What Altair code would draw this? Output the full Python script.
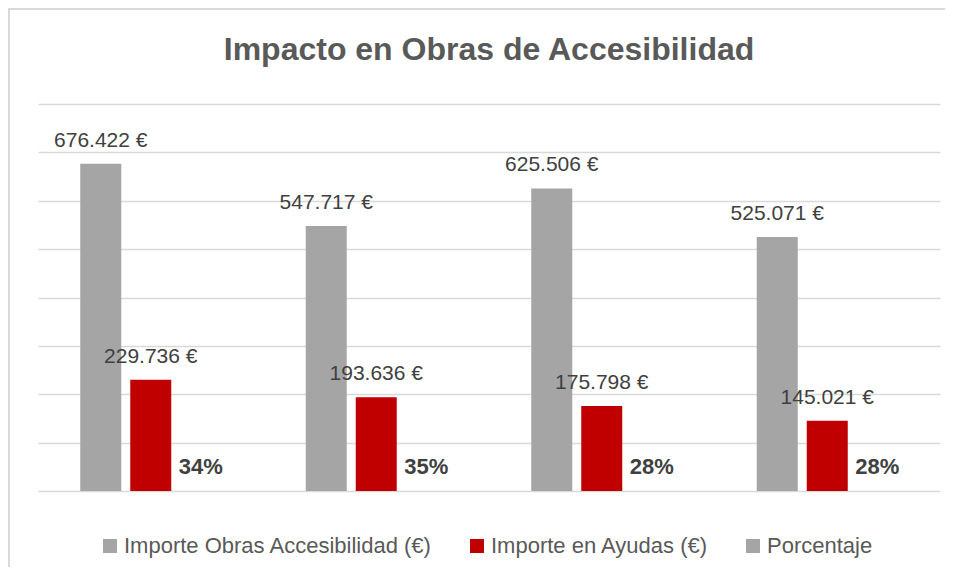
import altair as alt
import pandas as pd

groups = ["1", "2", "3", "4"]
series = ["Importe Obras Accesibilidad (€)", "Importe en Ayudas (€)", "Porcentaje"]
obras = [676422, 547717, 625506, 525071]
ayudas = [229736, 193636, 175798, 145021]
porcentaje = [34, 35, 28, 28]
colors = ["#A5A5A5", "#C00000", "#A5A5A5"]
grid_values = [0, 100000, 200000, 300000, 400000, 500000, 600000, 700000, 800000]


def eur(v):
    return f"{v:,}".replace(",", ".") + " €"


rows = []
for i, g in enumerate(groups):
    rows.append({"grupo": g, "serie": series[0], "valor": obras[i], "etiqueta": eur(obras[i]), "tipo": "eur"})
    rows.append({"grupo": g, "serie": series[1], "valor": ayudas[i], "etiqueta": eur(ayudas[i]), "tipo": "eur"})
    rows.append({"grupo": g, "serie": series[2], "valor": porcentaje[i] / 100, "etiqueta": f"{porcentaje[i]}%", "tipo": "pct"})
df = pd.DataFrame(rows)

FONT = "Liberation Sans"

x_enc = alt.X("grupo:N", sort=groups, axis=None, scale=alt.Scale(paddingInner=0, paddingOuter=0))
xo_enc = alt.XOffset("serie:N", sort=series,
                     scale=alt.Scale(domain=series, paddingInner=0.18, paddingOuter=0.845))
y_enc = alt.Y("valor:Q", scale=alt.Scale(domain=[0, 800000], nice=False),
              axis=alt.Axis(values=grid_values, labels=False, ticks=False, domain=False, title=None,
                            grid=True, gridColor="#D9D9D9", gridWidth=1.5))

base = alt.Chart(df)

bars = base.mark_bar().encode(
    x=x_enc, xOffset=xo_enc, y=y_enc,
    color=alt.Color("serie:N", sort=series,
                    scale=alt.Scale(domain=series, range=colors),
                    legend=alt.Legend(orient="none", legendX=61, legendY=431, direction="horizontal",
                                      title=None, symbolType="square", symbolSize=196,
                                      symbolStrokeWidth=0, labelFont=FONT, labelFontSize=22,
                                      labelColor="#595959", columnPadding=33, labelOffset=3,
                                      labelLimit=400)),
)

labels_eur = base.transform_filter(alt.datum.tipo == "eur").mark_text(
    font=FONT, fontSize=21, color="#404040", baseline="alphabetic", dy=-17
).encode(x=x_enc, xOffset=xo_enc, y=y_enc, text="etiqueta:N")

labels_pct = base.transform_filter(alt.datum.tipo == "pct").mark_text(
    font=FONT, fontSize=22, fontWeight="bold", color="#404040", baseline="alphabetic", dy=-17
).encode(x=x_enc, xOffset=xo_enc, y=y_enc, text="etiqueta:N")

border = alt.Chart(pd.DataFrame({"a": [1]})).mark_rect(
    fill=None, stroke="#D9D9D9", strokeWidth=2
).encode(x=alt.value(-29), x2=alt.value(930), y=alt.value(-95), y2=alt.value(480))

chart = alt.layer(border, bars, labels_eur, labels_pct).properties(
    width=902, height=387,
    background="white",
    title=alt.TitleParams("Impacto en Obras de Accesibilidad", font=FONT, fontSize=32,
                          fontWeight="bold", color="#595959", anchor="middle", offset=-59),
    autosize=alt.AutoSizeParams(type="none"),
    padding={"left": 30, "top": 96, "right": 5, "bottom": 76},
).configure_view(strokeWidth=0, stroke="transparent")

chart.save("out.html", embed_options={"renderer": "svg", "actions": False})
